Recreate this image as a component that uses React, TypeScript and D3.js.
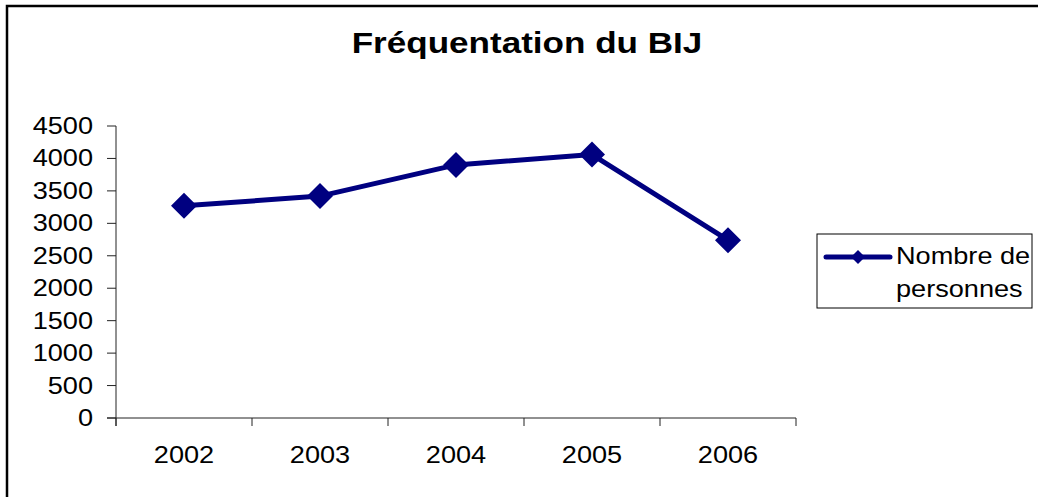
import React from "react";
import * as d3 from "d3";

const title = "Fréquentation du BIJ";
const categories = ["2002", "2003", "2004", "2005", "2006"];
const values = [3270, 3420, 3900, 4060, 2740];
const yTicks = [0, 500, 1000, 1500, 2000, 2500, 3000, 3500, 4000, 4500];
const seriesName = ["Nombre de", "personnes"];

const W = 1038;
const H = 497;
const FONT = "Arial, 'Liberation Sans', Helvetica, sans-serif";
const SX = 1.18;
const NAVY = "#000080";

function SText(props: { x: number; y: number; size: number; anchor?: string; bold?: boolean; sx?: number; children: React.ReactNode }) {
  const { x, y, size, anchor = "start", bold = false, sx = SX, children } = props;
  return (
    <text
      transform={`translate(${x},${y}) scale(${sx},1)`}
      textAnchor={anchor}
      fontFamily={FONT}
      fontSize={size}
      fontWeight={bold ? "bold" : "normal"}
      fill="#000"
    >
      {children}
    </text>
  );
}

function diamond(cx: number, cy: number, r: number) {
  return `M${cx},${cy - r}L${cx + r},${cy}L${cx},${cy + r}L${cx - r},${cy}Z`;
}

export default function App() {
  const x = d3.scaleBand<string>().domain(categories).range([116, 796]).padding(0);
  const y = d3.scaleLinear().domain([0, 4500]).range([418, 126]);
  const cx = (c: string) => (x(c) as number) + x.bandwidth() / 2;

  const line = d3
    .line<number>()
    .x((_, i) => cx(categories[i]))
    .y((d) => y(d));

  const xEdges = [...categories.map((c) => x(c) as number), 796];

  return (
    <svg
      width={W}
      height={H}
      style={{ position: "fixed", left: 0, top: 0, background: "#fff" }}
    >
      <rect x={0} y={0} width={W} height={H} fill="#fff" />
      <path d={`M7,${H + 5}L7,6L${W + 5},6`} fill="none" stroke="#000" strokeWidth={2.5} />

      <SText x={527} y={53} size={29} anchor="middle" bold sx={1.21}>
        {title}
      </SText>

      <line x1={116} x2={116} y1={y(4500)} y2={y(0) + 8} stroke="#222" strokeWidth={1} />
      {yTicks.map((t) => (
        <g key={t}>
          <line x1={107} x2={116} y1={y(t)} y2={y(t)} stroke="#222" strokeWidth={1} />
          <SText x={93} y={y(t) + 8} size={23} anchor="end">
            {t}
          </SText>
        </g>
      ))}

      <line x1={107} x2={796} y1={y(0)} y2={y(0)} stroke="#222" strokeWidth={1} />
      {xEdges.map((e, i) => (
        <line key={i} x1={e} x2={e} y1={y(0)} y2={y(0) + 8} stroke="#222" strokeWidth={1} />
      ))}
      {categories.map((c) => (
        <SText key={c} x={cx(c)} y={463} size={23} anchor="middle">
          {c}
        </SText>
      ))}

      <path d={line(values) || ""} fill="none" stroke={NAVY} strokeWidth={5} strokeLinejoin="round" />
      {values.map((v, i) => (
        <path key={i} d={diamond(cx(categories[i]), y(v), 13)} fill={NAVY} />
      ))}

      <rect x={817} y={234} width={215} height={74} fill="#fff" stroke="#000" strokeWidth={1} />
      <line x1={826} x2={890} y1={257} y2={257} stroke={NAVY} strokeWidth={5} strokeLinecap="round" />
      <path d={diamond(858, 257, 7)} fill={NAVY} />
      <SText x={896} y={264} size={23}>
        {seriesName[0]}
      </SText>
      <SText x={896} y={297} size={23}>
        {seriesName[1]}
      </SText>
    </svg>
  );
}
